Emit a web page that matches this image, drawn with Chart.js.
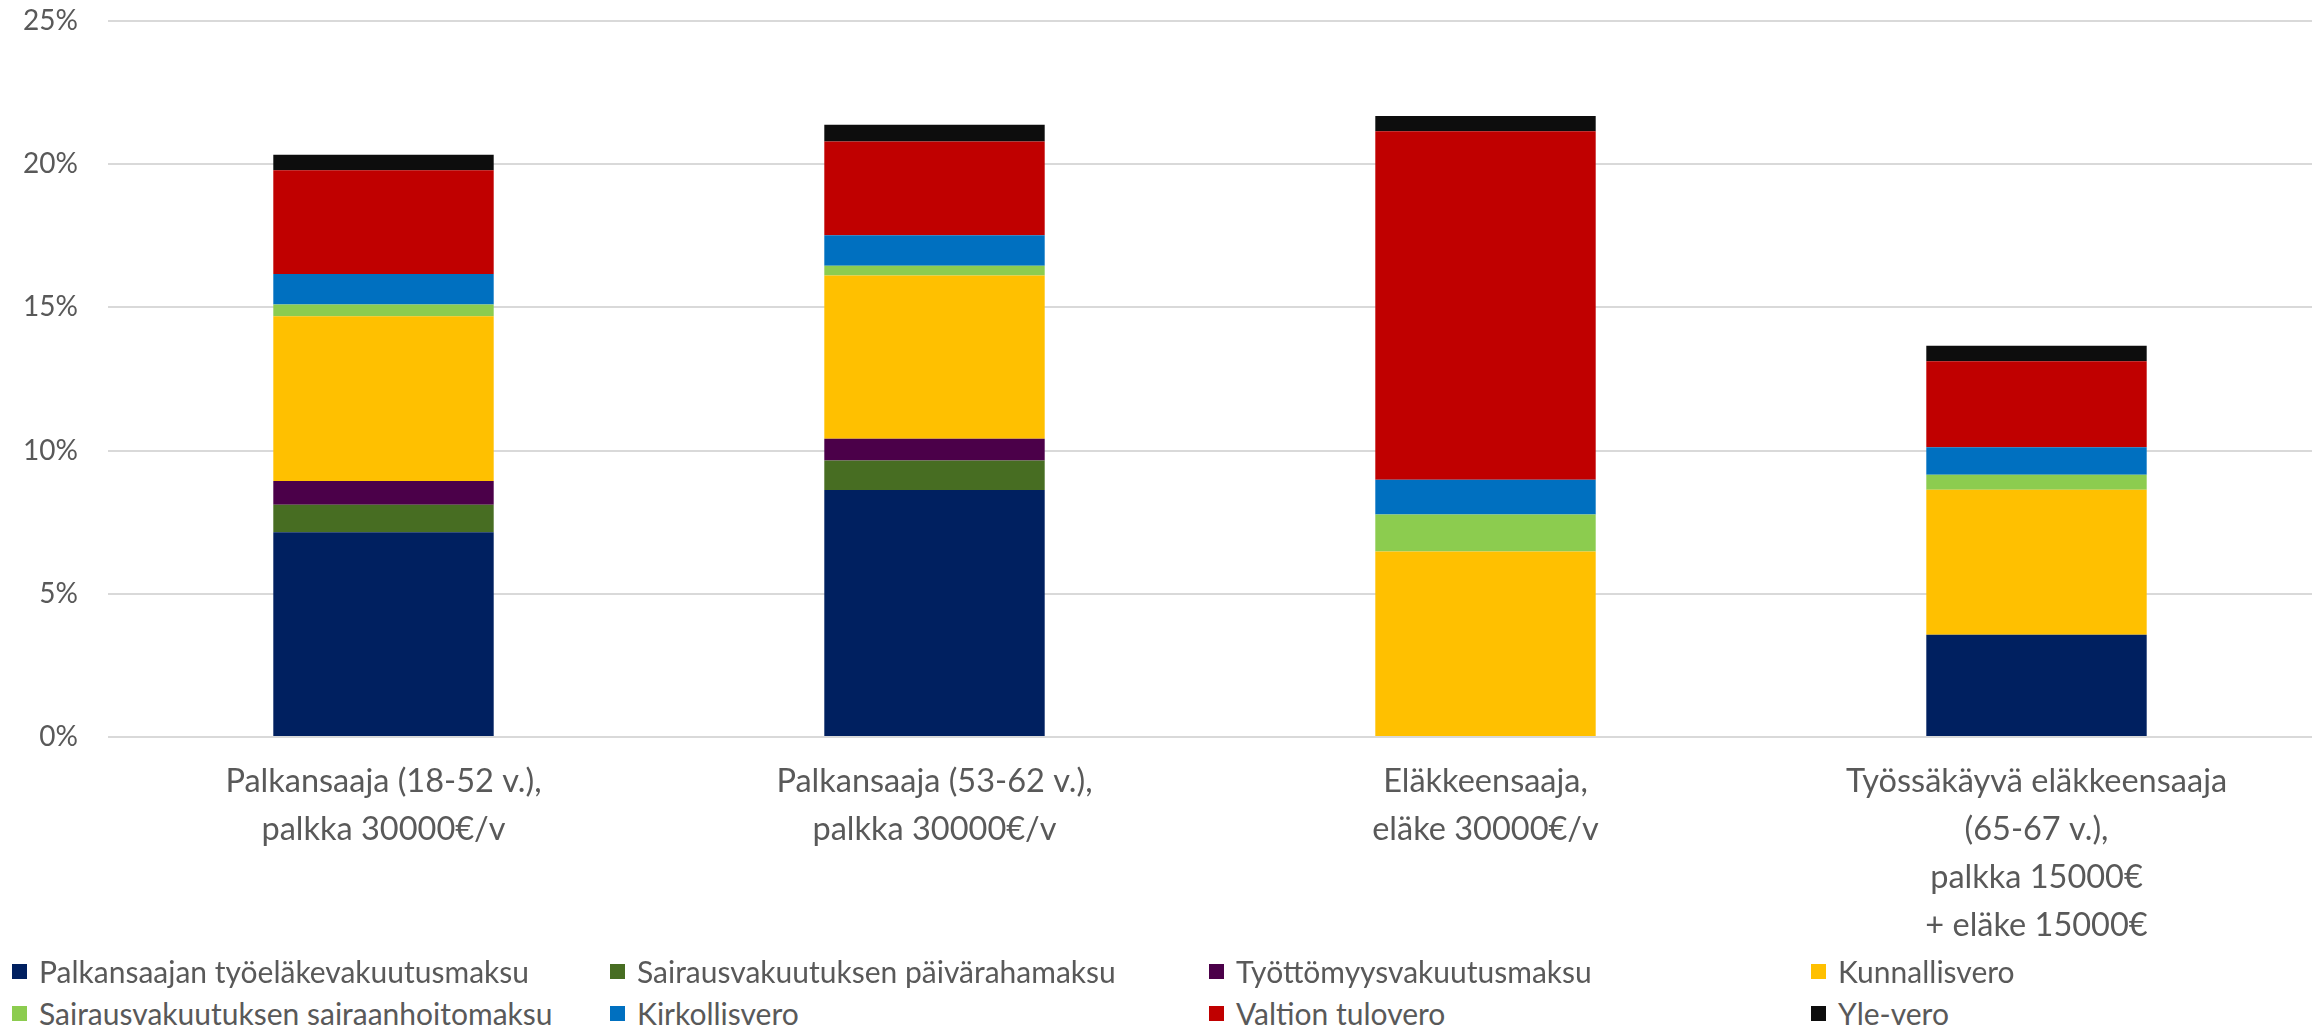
<!DOCTYPE html>
<html>
<head>
<meta charset="utf-8">
<script src="https://cdn.jsdelivr.net/npm/chart.js@4/dist/chart.umd.min.js"></script>
<style>
    body { margin: 0; background: #fff; font-family: Lato, sans-serif; }
    #wrap { position: relative; width: 2318px; height: 1026px; }
    #chartBox { position: absolute; left: 0; top: 0; width: 2318px; height: 955px; }
    .legend-item { position: absolute; display: flex; align-items: center; height: 40px; font-size: 30px; color: #595959; white-space: nowrap; }
    .legend-item span.box { display: inline-block; width: 15px; height: 15px; margin-right: 12px; }
</style>
</head>
<body>
<div id="wrap">
    <div id="chartBox"><canvas id="taxChart"></canvas></div>
    <div id="legend"></div>
</div>
<script>
// Categories (x-axis labels, split into lines)
const categories = [
    ['Palkansaaja (18-52 v.),', 'palkka 30000€/v'],
    ['Palkansaaja (53-62 v.),', 'palkka 30000€/v'],
    ['Eläkkeensaaja,', 'eläke 30000€/v'],
    ['Työssäkäyvä eläkkeensaaja', '(65-67 v.),', 'palkka 15000€', '+ eläke 15000€']
];

// Series values, % of income
const tyoelake = [7.15, 8.62, 0, 3.57];
const paivaraha = [0.96, 1.03, 0, 0];
const tyottomyys = [0.83, 0.76, 0, 0];
const kunnallisvero = [5.75, 5.70, 6.48, 5.06];
const sairaanhoito = [0.41, 0.34, 1.29, 0.53];
const kirkollisvero = [1.07, 1.07, 1.21, 0.96];
const valtionVero = [3.62, 3.27, 12.17, 3.00];
const yleVero = [0.54, 0.59, 0.53, 0.54];

const seriesNames = [
    'Palkansaajan työeläkevakuutusmaksu',
    'Sairausvakuutuksen päivärahamaksu',
    'Työttömyysvakuutusmaksu',
    'Kunnallisvero',
    'Sairausvakuutuksen sairaanhoitomaksu',
    'Kirkollisvero',
    'Valtion tulovero',
    'Yle-vero'
];

// Y-axis ticks
const yTicks = [0, 5, 10, 15, 20, 25];

const seriesData = [tyoelake, paivaraha, tyottomyys, kunnallisvero, sairaanhoito, kirkollisvero, valtionVero, yleVero];
const seriesColors = ['#002060', '#476d22', '#4b0049', '#ffc000', '#8ccc4f', '#0070c0', '#c00000', '#0d0d0d'];

const textColor = '#595959';

const datasets = seriesNames.map((name, i) => ({
    label: name,
    data: seriesData[i],
    backgroundColor: seriesColors[i],
    borderWidth: 0,
    categoryPercentage: 1.0,
    barPercentage: 0.4
}));

new Chart(document.getElementById('taxChart'), {
    type: 'bar',
    data: { labels: categories, datasets: datasets },
    options: {
        responsive: true,
        maintainAspectRatio: false,
        animation: false,
        layout: { padding: { top: 0, right: 6, left: 0, bottom: 0 } },
        plugins: {
            legend: { display: false },
            tooltip: { enabled: false }
        },
        scales: {
            x: {
                stacked: true,
                grid: { display: false },
                border: { display: false },
                ticks: {
                    color: textColor,
                    font: { family: 'Lato', size: 32.5, lineHeight: 1.48 },
                    padding: 12,
                    maxRotation: 0,
                    autoSkip: false
                },
                afterFit: function(scale) {
                    scale.height = 218;
                    scale.paddingLeft = 0;
                    scale.paddingRight = 0;
                }
            },
            y: {
                stacked: true,
                min: 0,
                max: 25,
                afterBuildTicks: function(scale) {
                    scale.ticks = yTicks.map(v => ({ value: v }));
                },
                grid: { color: '#d9d9d9', lineWidth: 2, drawTicks: false },
                border: { display: false },
                ticks: {
                    color: textColor,
                    font: { family: 'Lato', size: 28 },
                    padding: 30,
                    callback: function(value) { return value + '%'; }
                },
                afterFit: function(scale) {
                    scale.width = 108;
                    // keep the 25% line near the top edge, as in the original
                    scale.paddingTop = 21;
                    scale.paddingBottom = 0;
                }
            }
        }
    }
});

// Legend laid out as in the original: 4 columns, 2 rows
const legendCols = [12, 610, 1209, 1811];
const legendRows = [951, 993];
const legendEl = document.getElementById('legend');
seriesNames.forEach((name, i) => {
    const item = document.createElement('div');
    item.className = 'legend-item';
    item.style.left = legendCols[i % 4] + 'px';
    item.style.top = legendRows[Math.floor(i / 4)] + 'px';
    const box = document.createElement('span');
    box.className = 'box';
    box.style.background = seriesColors[i];
    item.appendChild(box);
    item.appendChild(document.createTextNode(name));
    legendEl.appendChild(item);
});
</script>
</body>
</html>
